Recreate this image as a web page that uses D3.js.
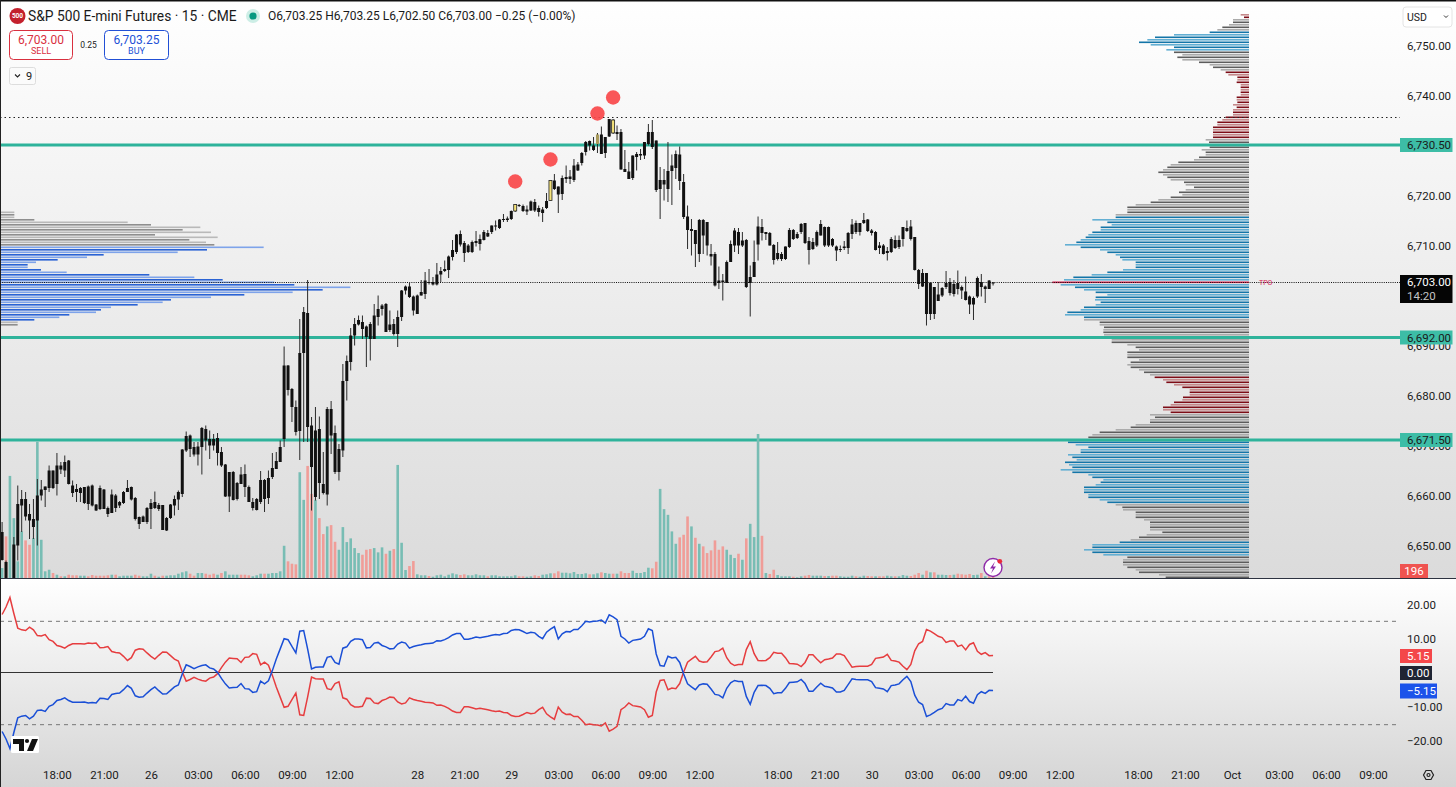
<!DOCTYPE html>
<html>
<head>
<meta charset="utf-8">
<style>
html,body{margin:0;padding:0;background:#fff;overflow:hidden}
text{font-family:Roboto,"Noto Sans",sans-serif;fill:#1a1a1a}
</style>
<script src="https://cdn.jsdelivr.net/npm/d3@7"></script>
</head>
<body>
<script>
// S&P 500 E-mini, 15 min bars
var highs = [6655.1,6647.4,6643.5,6652.1,6662.4,6661.5,6661.1,6658.7,6659.7,6663.7,
6663.5,6662.2,6666.4,6665.4,6668.9,6667.1,6668.4,6667.5,6663.4,6662.7,
6662.1,6662.1,6662.4,6662.6,6658.7,6662.4,6661.7,6658.2,6661.6,6660.7,
6659.3,6661.3,6663.5,6662.2,6660.1,6656.2,6656.4,6658.1,6659.7,6661.2,
6658.9,6658.5,6656.1,6658.7,6660.4,6661.4,6669.7,6673.2,6672.6,6671.1,
6671.1,6674.1,6674.4,6673.4,6672.7,6672.9,6670.1,6666.7,6665.1,6665.3,
6663.1,6666.1,6666.6,6662.4,6659.9,6659.9,6665.3,6663.7,6665.4,6668.9,
6669.1,6671.4,6690.2,6686.5,6681.9,6679.4,6695.7,6698.1,6703.5,6676.1,
6678.1,6676.2,6669.1,6678.1,6679.3,6674.4,6670.7,6686.7,6688.4,6693.9,
6695.9,6696.4,6696.4,6694.4,6695.1,6698.7,6700.4,6698.7,6698.9,6697.4,
6695.7,6697.4,6701.5,6702.4,6702.9,6700.4,6700.6,6703.5,6705.1,6705.7,
6704.1,6706.9,6706.1,6707.4,6708.4,6711.5,6712.7,6713.4,6711.3,6710.7,
6711.4,6713.3,6712.6,6713.5,6713.5,6714.4,6715.4,6715.7,6716.7,6716.2,
6717.4,6718.7,6718.7,6718.6,6718.4,6719.4,6719.7,6718.4,6718.1,6720.9,
6723.4,6724.7,6722.2,6724.4,6726.4,6725.5,6727.7,6727.1,6729.1,6731.3,
6731.4,6732.1,6732.9,6734.2,6732.1,6735.7,6735.7,6734.4,6733.7,6729.5,
6727.1,6728.4,6729.1,6729.7,6731.1,6734.7,6735.5,6731.4,6726.1,6725.7,
6731.1,6728.6,6729.4,6730.2,6724.7,6718.4,6715.7,6713.5,6715.7,6715.7,
6715.1,6710.7,6709.1,6706.2,6704.7,6707.4,6711.4,6713.9,6713.9,6713.1,
6711.7,6706.4,6711.4,6716.2,6715.7,6713.1,6713.1,6710.7,6711.1,6709.1,
6710.2,6713.9,6713.7,6713.1,6714.9,6714.9,6712.1,6711.9,6713.4,6715.5,
6714.2,6714.2,6711.9,6710.4,6710.4,6711.3,6713.1,6715.7,6715.4,6714.9,
6716.9,6715.7,6713.7,6713.3,6711.1,6710.7,6710.1,6712.1,6712.4,6712.4,
6714.1,6715.4,6715.5,6712.1,6705.7,6705.7,6704.9,6703.1,6702.1,6703.1,
6702.1,6705.3,6703.9,6703.5,6705.4,6702.4,6704.2,6700.4,6700.2,6704.2,
6704.7,6702.4,6703.5,6703.1];
var bodyTops = [6653.1,6647.1,6643.0,6650.6,6658.7,6659.7,6659.7,6656.7,6655.7,6660.4,
6661.6,6662.2,6665.4,6665.4,6666.4,6666.4,6667.1,6667.4,6662.4,6661.7,
6661.9,6662.1,6662.2,6662.4,6658.6,6661.9,6661.6,6657.9,6660.6,6660.4,
6659.1,6661.1,6661.9,6662.1,6659.9,6656.1,6656.2,6657.9,6658.9,6659.1,
6658.5,6658.5,6655.9,6658.6,6659.7,6661.1,6669.6,6672.3,6672.4,6670.1,
6670.2,6673.9,6673.7,6671.7,6671.7,6671.9,6669.1,6666.6,6665.1,6665.1,
6662.9,6664.6,6664.7,6662.1,6659.1,6659.7,6663.5,6663.5,6663.9,6665.9,
6667.3,6670.1,6686.4,6686.4,6681.7,6678.1,6688.9,6697.1,6696.9,6674.4,
6673.4,6673.7,6662.7,6677.7,6677.7,6672.9,6669.7,6683.3,6687.3,6692.4,
6694.7,6695.5,6695.1,6694.2,6694.7,6696.4,6697.7,6698.4,6698.7,6694.6,
6694.7,6696.1,6701.4,6702.2,6702.2,6700.2,6700.4,6701.1,6703.4,6703.1,
6703.1,6704.6,6705.3,6705.7,6708.2,6709.5,6712.6,6712.7,6710.9,6710.4,
6711.1,6711.3,6711.7,6713.1,6712.9,6714.4,6714.4,6715.6,6715.7,6715.8,
6717.3,6718.6,6718.5,6718.3,6717.6,6719.2,6719.1,6717.9,6717.6,6719.3,
6723.4,6723.4,6722.2,6723.9,6724.1,6724.2,6726.4,6726.6,6728.9,6731.1,
6731.3,6730.4,6732.6,6732.6,6732.1,6735.7,6735.5,6733.1,6733.1,6725.7,
6725.2,6728.4,6728.7,6728.7,6731.1,6733.1,6733.1,6731.4,6723.5,6723.5,
6725.3,6726.4,6728.7,6728.6,6723.1,6716.2,6713.7,6713.5,6715.5,6715.5,
6715.1,6708.7,6708.7,6703.4,6703.4,6707.1,6710.7,6713.4,6713.1,6711.4,
6711.5,6704.1,6707.1,6714.2,6714.1,6713.1,6712.9,6710.5,6708.9,6708.7,
6710.2,6713.5,6713.5,6712.7,6714.7,6714.9,6711.3,6711.1,6713.1,6714.7,
6714.1,6714.1,6711.7,6710.2,6709.7,6710.2,6712.9,6714.6,6714.9,6714.9,
6715.5,6715.6,6713.4,6713.1,6710.4,6710.4,6709.3,6711.7,6711.5,6711.5,
6714.1,6713.9,6714.2,6712.1,6705.5,6704.9,6704.9,6702.9,6702.1,6700.6,
6701.9,6702.9,6703.1,6702.7,6702.9,6702.1,6701.2,6700.2,6699.9,6703.9,
6703.1,6702.2,6703.4,6703.0];
var bodyBottoms = [6647.5,6643.7,6642.0,6643.7,6650.4,6658.4,6656.2,6655.4,6654.1,6655.4,
6660.4,6661.5,6661.9,6661.9,6662.7,6665.6,6665.4,6662.7,6660.9,6661.1,
6660.9,6658.9,6658.7,6658.4,6657.4,6657.7,6657.7,6656.7,6656.9,6657.9,
6658.4,6658.9,6661.1,6659.6,6655.7,6654.7,6655.1,6655.1,6657.7,6657.9,
6657.7,6653.5,6653.4,6655.9,6658.4,6659.6,6660.7,6669.4,6669.7,6668.6,
6668.6,6670.1,6671.4,6670.4,6670.4,6668.9,6666.4,6660.2,6660.2,6659.5,
6659.7,6662.7,6662.1,6659.1,6657.9,6657.5,6659.1,6659.7,6659.9,6664.1,
6665.7,6667.1,6671.7,6681.5,6678.1,6673.1,6673.3,6688.9,6674.1,6666.1,
6660.1,6662.9,6660.9,6660.6,6672.4,6665.1,6665.1,6669.4,6683.3,6687.1,
6692.4,6694.6,6693.7,6692.1,6691.7,6691.7,6696.1,6697.7,6693.1,6693.5,
6692.7,6692.7,6696.1,6701.4,6700.1,6697.4,6696.7,6700.4,6700.7,6702.9,
6702.6,6702.6,6704.6,6705.3,6705.5,6708.1,6709.1,6710.6,6708.9,6709.1,
6709.1,6710.9,6710.7,6711.5,6712.2,6713.1,6714.2,6713.9,6715.5,6715.5,
6715.7,6717.3,6718.3,6717.3,6717.2,6717.4,6717.4,6717.1,6716.9,6717.9,
6719.4,6721.7,6720.6,6720.7,6723.7,6723.7,6723.5,6725.4,6726.9,6729.1,
6730.4,6729.5,6730.7,6728.7,6728.9,6732.2,6732.9,6732.7,6725.6,6725.1,
6723.7,6723.9,6728.1,6728.4,6728.4,6730.7,6730.1,6721.5,6721.7,6722.6,
6721.7,6725.3,6725.9,6723.3,6716.1,6713.5,6713.3,6710.7,6708.7,6712.4,
6710.4,6708.2,6702.4,6702.9,6703.1,6702.9,6707.1,6710.4,6710.4,6710.4,
6702.1,6702.9,6704.1,6710.6,6712.9,6712.7,6710.4,6707.5,6707.7,6707.7,
6707.7,6710.1,6711.7,6711.9,6713.1,6710.9,6709.5,6709.7,6710.4,6712.4,
6710.4,6710.4,6710.4,6709.4,6709.5,6709.9,6709.9,6712.7,6713.1,6713.1,
6714.9,6713.3,6712.9,6709.5,6709.9,6708.7,6708.9,6709.1,6709.9,6710.1,
6711.7,6713.3,6711.7,6705.5,6702.7,6702.2,6696.7,6696.7,6696.7,6699.3,
6700.4,6702.1,6700.9,6700.7,6701.7,6701.4,6699.5,6698.6,6698.6,6700.2,
6702.1,6701.7,6701.7,6702.8];
var lows = [6647.4,6643.7,6641.0,6643.7,6647.4,6653.1,6655.4,6651.7,6651.7,6650.4,
6659.4,6658.1,6661.1,6661.7,6660.4,6664.7,6664.1,6662.6,6660.1,6659.1,
6659.1,6658.7,6657.5,6658.2,6657.3,6657.5,6657.7,6656.1,6656.9,6657.1,
6657.9,6658.7,6661.1,6659.4,6655.4,6653.7,6655.1,6654.7,6653.7,6657.7,
6657.3,6653.5,6653.3,6655.7,6656.4,6657.5,6660.1,6669.1,6668.1,6668.2,
6666.4,6664.6,6669.4,6667.7,6669.4,6666.4,6666.1,6660.1,6657.1,6659.4,
6659.4,6662.7,6660.1,6659.1,6657.4,6657.4,6658.7,6657.1,6658.7,6663.7,
6665.7,6667.1,6670.1,6680.4,6675.1,6672.4,6667.5,6671.1,6671.1,6657.4,
6659.4,6659.7,6660.6,6658.4,6668.7,6664.7,6663.4,6668.1,6679.4,6685.4,
6690.4,6694.4,6691.7,6686.1,6687.4,6691.7,6694.4,6696.4,6693.1,6693.1,
6692.4,6690.1,6695.3,6700.6,6699.9,6696.4,6696.7,6700.4,6699.7,6702.6,
6702.4,6702.4,6703.1,6705.1,6703.9,6707.4,6708.7,6710.2,6707.1,6708.9,
6708.9,6710.2,6709.4,6711.4,6712.1,6712.7,6713.4,6713.7,6715.1,6715.1,
6715.5,6717.1,6718.1,6717.1,6716.5,6717.3,6717.1,6716.2,6715.1,6717.7,
6719.4,6721.5,6716.9,6719.5,6722.9,6722.7,6723.1,6725.3,6726.4,6728.4,
6729.4,6729.3,6728.9,6728.7,6727.9,6732.1,6732.7,6731.5,6725.6,6725.1,
6723.7,6723.5,6725.4,6727.5,6727.7,6730.4,6729.7,6721.1,6715.7,6719.4,
6719.1,6718.5,6723.7,6721.5,6715.7,6709.7,6708.4,6706.1,6707.1,6708.7,
6708.4,6706.4,6702.2,6701.7,6699.4,6702.9,6707.1,6709.1,6708.7,6710.1,
6701.9,6696.2,6704.1,6707.4,6711.4,6711.5,6710.4,6706.6,6707.4,6707.3,
6707.5,6709.9,6711.5,6711.7,6712.7,6710.7,6706.6,6709.5,6710.1,6712.4,
6710.1,6710.1,6710.1,6707.3,6709.1,6709.5,6708.7,6711.7,6712.7,6712.4,
6714.7,6713.1,6712.4,6709.4,6708.7,6708.6,6707.4,6708.9,6709.7,6709.7,
6710.2,6713.1,6711.4,6705.4,6701.7,6702.1,6694.4,6695.5,6695.7,6699.3,
6700.1,6701.7,6700.4,6700.2,6700.6,6699.7,6699.4,6696.7,6695.5,6699.9,
6700.2,6698.9,6701.7,6702.4];
var volumes = [1000,4170,10230,6000,1670,4670,3770,3330,4000,13670,
3830,670,830,500,330,170,170,330,270,270,
230,230,170,300,230,230,230,270,330,330,
170,230,230,230,330,230,170,170,430,230,
130,230,230,270,270,430,570,670,430,230,
500,500,430,330,430,330,500,670,330,330,
330,330,330,270,170,270,430,430,430,500,
500,670,3230,1670,1430,1370,10600,7830,11230,8430,
7830,6000,4400,5170,5300,3630,2830,5100,3600,3970,
3000,2500,2330,2830,2900,3000,2570,3070,2430,2730,
2900,11330,3530,800,1200,1700,370,270,270,200,
130,270,330,170,330,470,370,300,370,270,
270,370,270,270,170,270,270,170,170,170,
170,270,170,170,130,170,270,200,330,370,
470,470,670,530,530,470,600,400,400,470,
370,370,470,570,500,430,430,430,670,500,
500,730,500,500,600,1030,970,1630,8930,6900,
6330,4670,3430,4070,4330,6170,5170,4030,3430,3170,
2500,2770,3770,2830,3170,2830,2330,2000,2430,1830,
3970,5430,4100,14430,4230,500,400,830,300,170,
170,170,130,70,170,230,300,230,230,230,
200,200,230,230,170,130,130,230,170,130,
230,200,170,170,170,170,230,170,170,170,
300,230,200,330,500,330,730,570,570,330,
330,300,300,330,430,370,330,400,300,330,
500,170,170,196];
var volumeSides = ("grggggrrgg"+"gggrgrgrrr"+"ggrrrrrrgr"+"ggggrrgggr"+"grggggggrr"+
"ggrrrgrggg"+"grrrgggrgg"+"gggrrrggrr"+"grrgrrgggg"+"ggrrrgggrg"+
"rgggrrgggr"+"gggggggrrg"+"ggggrggggg"+"ggrrggrrgg"+"grrggggggg"+
"rggrggrgrr"+"rgggggrrgg"+"gggrrrgrgr"+"rrrrrgggrg"+"rgggrgrrgg"+
"ggrggrrggg"+"rgrrggggrg"+"grrgrrggrg"+"ggrrrgrgrg"+"ggrgrrrrgg"+"rgrr").split("");

var redLine = [17.2,19.4,22.2,17.5,13.2,12.7,12.5,13.5,12.7,11,
10.9,11.3,9.8,9.3,8.1,7.8,7.3,8.1,8.6,8.6,
8.6,8.5,8.8,8.7,8.8,7.4,7.5,7.8,6.3,6,
5.9,4.9,3.7,4.5,6.7,7.1,7,5.9,4.9,4.1,
5.2,6.2,6.1,5.1,4.1,3.5,0.3,-2.4,-1.9,-1.3,
-1.8,-2.2,-2.4,-1.5,-1.2,-0.2,1.6,3.2,4.4,4.3,
4.2,3.1,4.6,4.7,5.7,5.5,2.4,3.2,2.3,-0.7,
-4.1,-7.1,-10.1,-9.8,-7.8,-5.9,-12.3,-12.5,-7.1,-1.2,
-1.7,-1.8,-1.8,-4.6,-4.9,-3.1,-2.6,-7.3,-7.7,-9.3,
-10,-10,-9.8,-7.4,-7.5,-8.8,-9,-8.1,-7.7,-7.1,
-7.2,-8.5,-9.1,-8.8,-7.3,-7.8,-8.1,-8.3,-8.6,-8.7,
-8.8,-9.5,-9.4,-9.8,-10.4,-11.2,-11.6,-11.6,-9.9,-9.9,
-10.2,-10.6,-10.4,-10.6,-10.8,-11.1,-11.3,-11.2,-11.6,-11.7,
-12.5,-12.8,-12.7,-12.2,-11.6,-12,-11.8,-10.8,-10.1,-12,
-12.9,-13.6,-10,-11.5,-12.2,-12.1,-12.8,-12.8,-13.9,-15.2,
-15,-15.2,-15.3,-15.6,-14.7,-17.1,-16.5,-15.7,-10.8,-10,
-8.8,-9.6,-9.8,-10,-10.8,-13,-12.5,-5.6,-2.2,-2,
-4.9,-4.4,-4.6,-3.1,0.3,3.2,4.1,4.9,3.5,3.2,
3.3,4.7,6.3,6.5,7.3,4.5,2.9,2.2,2.5,2.5,
6.9,9.2,5.7,3.7,3.6,3.7,4.5,6.1,5.8,5.8,
4.5,2.8,2.7,2.6,1.9,3.1,5.4,5.4,4.1,3,
3.9,4.1,4.4,5.6,5.6,5.1,3.4,1.7,1.9,2,
2,2,2.5,4.3,4.5,4.7,5.5,3.7,3.5,3.2,
2,1,2.5,6.5,8.6,9.3,12.8,12.3,11.6,10.8,
10.4,9,9.4,9.4,7.8,8.2,6.8,8.4,8.9,6.4,
5.5,6,5.1,5.15];
var blueLine = [-17.2,-19.4,-22.2,-17.5,-13.2,-12.7,-12.5,-13.5,-12.7,-11,
-10.9,-11.3,-9.8,-9.3,-8.1,-7.8,-7.3,-8.1,-8.6,-8.6,
-8.6,-8.5,-8.8,-8.7,-8.8,-7.4,-7.5,-7.8,-6.3,-6,
-5.9,-4.9,-3.7,-4.5,-6.7,-7.1,-7,-5.9,-4.9,-4.1,
-5.2,-6.2,-6.1,-5.1,-4.1,-3.5,-0.3,2.4,1.9,1.3,
1.8,2.2,2.4,1.5,1.2,0.2,-1.6,-3.2,-4.4,-4.3,
-4.2,-3.1,-4.6,-4.7,-5.7,-5.5,-2.4,-3.2,-2.3,0.7,
4.1,7.1,10.1,9.8,7.8,5.9,12.3,12.5,7.1,1.2,
1.7,1.8,1.8,4.6,4.9,3.1,2.6,7.3,7.7,9.3,
10,10,9.8,7.4,7.5,8.8,9,8.1,7.7,7.1,
7.2,8.5,9.1,8.8,7.3,7.8,8.1,8.3,8.6,8.7,
8.8,9.5,9.4,9.8,10.4,11.2,11.6,11.6,9.9,9.9,
10.2,10.6,10.4,10.6,10.8,11.1,11.3,11.2,11.6,11.7,
12.5,12.8,12.7,12.2,11.6,12,11.8,10.8,10.1,12,
12.9,13.6,10,11.5,12.2,12.1,12.8,12.8,13.9,15.2,
15,15.2,15.3,15.6,14.7,17.1,16.5,15.7,10.8,10,
8.8,9.6,9.8,10,10.8,13,12.5,5.6,2.2,2,
4.9,4.4,4.6,3.1,-0.3,-3.2,-4.1,-4.9,-3.5,-3.2,
-3.3,-4.7,-6.3,-6.5,-7.3,-4.5,-2.9,-2.2,-2.5,-2.5,
-6.9,-9.2,-5.7,-3.7,-3.6,-3.7,-4.5,-6.1,-5.8,-5.8,
-4.5,-2.8,-2.7,-2.6,-1.9,-3.1,-5.4,-5.4,-4.1,-3,
-3.9,-4.1,-4.4,-5.6,-5.6,-5.1,-3.4,-1.7,-1.9,-2,
-2,-2,-2.5,-4.3,-4.5,-4.7,-5.5,-3.7,-3.5,-3.2,
-2,-1,-2.5,-6.5,-8.6,-9.3,-12.8,-12.3,-11.6,-10.8,
-10.4,-9,-9.4,-9.4,-7.8,-8.2,-6.8,-8.4,-8.9,-6.4,
-5.5,-6,-5.1,-5.15];

// volume profile rows, one per half point going down from the top price
var rightProfileTop = 6756.5;
var rightProfile = [25,15,48,48,60,80,95,118,225,282,
305,330,295,225,248,225,200,215,200,150,
118,108,85,70,62,35,35,37,25,25,
25,25,25,37,37,35,48,37,48,48,
48,70,80,95,95,108,108,108,108,108,
130,120,130,118,142,130,130,150,165,212,
235,245,258,272,258,245,235,195,190,165,
190,210,200,235,272,295,340,365,365,365,
400,400,470,425,412,445,445,470,482,490,
505,518,552,505,447,425,400,387,380,340,
340,340,378,425,472,527,555,590,565,522,
495,460,425,460,462,445,460,495,505,545,
552,495,495,448,448,435,437,437,435,412,
412,412,365,340,330,365,365,365,330,355,
365,355,330,315,297,283,258,248,225,200,
178,178,178,198,200,225,235,258,258,235,
297,282,297,297,340,355,400,448,470,482,
480,543,520,482,505,505,543,530,517,552,
540,530,565,530,482,470,437,445,460,495,
495,495,482,482,448,425,400,380,378,340,
340,340,315,297,297,297,297,260,307,330,
355,388,470,470,495,470,437,365,378,378,
378,365,340,330,270,250];
var blueZones = [[6753,6749.5],[6716,6696],[6671,6659],[6651,6648.5]];
var redZones = [[6756.5,6756],[6745,6732],[6684,6677]];
var pocPrice = 6703;

var leftProfileTop = 6717;
var leftProfile = [40,40,40,100,380,450,598,545,630,462,
650,565,615,640,788,618,530,308,258,170,
105,80,80,120,197,445,580,665,820,880,
1048,965,875,730,630,510,485,410,330,300,
285,205,175,100,50,50];
var leftBlueZone = [6710,6695.5];

var levelPrices = [6730.5,6692,6671.5];
var dottedPrices = [6736,6703];
var signalBars = [131,140,152,156];
var signalPrices = [6723.2,6727.6,6736.8,6740];
var markedBars = [131,140,156];
var khakiBars = [152];

var priceTicks = [6750,6740,6730,6720,6710,6700,6690,6680,6670,6660,6650];
var indicatorTicks = [20,10,0,-10,-20];
var indicatorGuides = [15.2,-15.2];
var timeTickBars = [14,26,38,50,62,74,86,106,118,130,142,154,166,178,198,210,222,234,246,258,270,290,302,314,326,338,350];
var timeTickLabels = ["18:00","21:00","26","03:00","06:00","09:00","12:00","28","21:00","29","03:00","06:00","09:00","12:00","18:00","21:00","30","03:00","06:00","09:00","12:00","18:00","21:00","Oct","03:00","06:00","09:00"];

var w = 1456, h = 787;
var x = d3.scaleLinear().domain([0,350]).range([2.1,1373]);
var y = d3.scaleLinear().domain([6750,6650]).range([47.5,547.5]);
var yVol = d3.scaleLinear().domain([0,14430]).range([578,434]);
var yInd = d3.scaleLinear().domain([20,-20]).range([605,741]);
var profW = d3.scaleLinear().domain([0,3]).range([0,1]);
var fmt = d3.format(",.2f");

var svg = d3.select("body").append("svg").attr("width",w).attr("height",h).style("display","block");
var defs = svg.append("defs");
function grad(id, c1, c2) {
	var g = defs.append("linearGradient").attr("id",id).attr("x1",0).attr("y1",0).attr("x2",0).attr("y2",1);
	g.append("stop").attr("offset","0%").attr("stop-color",c1);
	g.append("stop").attr("offset","100%").attr("stop-color",c2);
}
grad("bgMain","#ffffff","#dbdbdb");
grad("bgInd","#ffffff","#d5d5d5");
defs.append("clipPath").attr("id","mainClip").append("rect").attr("x",0).attr("y",0).attr("width",1400).attr("height",578);

svg.append("rect").attr("width",w).attr("height",578).attr("fill","url(#bgMain)");
svg.append("rect").attr("y",579).attr("width",w).attr("height",208).attr("fill","url(#bgInd)");

function inZones(p, zones) {
	return zones.some(function(z) { return p <= z[0] && p >= z[1]; });
}
var main = svg.append("g").attr("clip-path","url(#mainClip)");

// left profile
main.append("g").selectAll("rect").data(leftProfile).join("rect")
	.attr("x",1)
	.attr("y",function(d,i) { return y(leftProfileTop-i*0.5)-1; })
	.attr("width",function(d) { return profW(d); })
	.attr("height",1.6)
	.attr("fill",function(d,i) {
		var p = leftProfileTop-i*0.5;
		if (p <= leftBlueZone[0] && p >= leftBlueZone[1]) return i%2 ? "#2a63d4" : "#7ea3ea";
		return i%2 ? "#8e8e8e" : "#b9b9b9";
	});

// right profile
main.append("g").selectAll("rect").data(rightProfile).join("rect")
	.attr("x",function(d) { return 1249-profW(d); })
	.attr("y",function(d,i) { return y(rightProfileTop-i*0.5)-1; })
	.attr("width",function(d) { return profW(d); })
	.attr("height",1.6)
	.attr("fill",function(d,i) {
		var p = rightProfileTop-i*0.5;
		if (p == pocPrice) return "#d3204e";
		if (inZones(p,blueZones)) return i%2 ? "#1375a8" : "#63afd3";
		if (inZones(p,redZones)) return i%2 ? "#7d0c16" : "#c58a8c";
		return i%2 ? "#5c5c5c" : "#ababab";
	});

// dotted lines
main.append("line").attr("x1",0).attr("x2",1400).attr("y1",y(dottedPrices[0])).attr("y2",y(dottedPrices[0]))
	.attr("stroke","#222").attr("stroke-width",1.1).attr("stroke-dasharray","1.5,3");
main.append("line").attr("x1",0).attr("x2",1400).attr("y1",y(dottedPrices[1])).attr("y2",y(dottedPrices[1]))
	.attr("stroke","#111").attr("stroke-width",1).attr("stroke-dasharray","1,1.2");

// teal levels
main.append("g").selectAll("line").data(levelPrices).join("line")
	.attr("x1",0).attr("x2",1400)
	.attr("y1",function(d) { return y(d); }).attr("y2",function(d) { return y(d); })
	.attr("stroke","#2fb39b").attr("stroke-width",3.2);

// volume
main.append("g").selectAll("rect").data(volumes).join("rect")
	.attr("x",function(d,i) { return x(i)-1.3; })
	.attr("y",function(d) { return yVol(d); })
	.attr("width",2.6)
	.attr("height",function(d) { return 578-yVol(d); })
	.attr("fill",function(d,i) { return volumeSides[i]=="g" ? "#78bdb4" : "#f09d98"; });

// candles
var candles = main.append("g");
candles.selectAll("line").data(highs).join("line")
	.attr("x1",function(d,i) { return x(i); }).attr("x2",function(d,i) { return x(i); })
	.attr("y1",function(d) { return y(d); })
	.attr("y2",function(d,i) { return y(lows[i]); })
	.attr("stroke","#2a2a2a").attr("stroke-width",1);
candles.selectAll("rect").data(bodyTops).join("rect")
	.attr("x",function(d,i) { return x(i)-1.5; })
	.attr("width",3)
	.attr("y",function(d) { return y(d); })
	.attr("height",function(d,i) { return Math.max(1,y(bodyBottoms[i])-y(d)); })
	.attr("fill",function(d,i) {
		if (markedBars.indexOf(i) >= 0) return "#f4e27a";
		if (khakiBars.indexOf(i) >= 0) return "#a89a5a";
		return "#111";
	})
	.attr("stroke",function(d,i) { return markedBars.indexOf(i) >= 0 ? "#222" : "none"; })
	.attr("stroke-width",0.8);

// signal dots
main.append("g").selectAll("circle").data(signalBars).join("circle")
	.attr("cx",function(d) { return x(d); })
	.attr("cy",function(d,i) { return y(signalPrices[i]); })
	.attr("r",7.2)
	.attr("fill","#f8484a").attr("fill-opacity",0.92);

// TPO tag
svg.append("text").attr("x",1259).attr("y",y(pocPrice)).attr("dy","0.35em")
	.attr("font-size",7).style("fill","#d3204e").text("TPO");
// pane divider
svg.append("line").attr("x1",0).attr("x2",w).attr("y1",578.5).attr("y2",578.5).attr("stroke","#2c3240").attr("stroke-width",1);

// price axis
var priceAxis = d3.axisRight(y).tickValues(priceTicks).tickSize(0).tickPadding(0).tickFormat(fmt);
var gPrice = svg.append("g").attr("transform","translate(1407,-1.5)").call(priceAxis);
gPrice.select(".domain").remove();
gPrice.selectAll("text").attr("font-size",11.5).attr("text-anchor","start");

// level tags
function tag(yc, hgt, x0, wdt, col) {
	svg.append("rect").attr("x",x0).attr("y",yc-hgt/2).attr("width",wdt).attr("height",hgt).attr("fill",col);
}
levelPrices.forEach(function(p) {
	tag(y(p),14,1400,52.5,"#3dbda6");
	svg.append("text").attr("x",1407).attr("y",y(p)).attr("dy","0.35em").attr("font-size",11.5).text(fmt(p));
});
svg.append("rect").attr("x",1400).attr("y",275).attr("width",52.5).attr("height",28).attr("fill","#050505");
svg.append("text").attr("x",1407).attr("y",y(pocPrice)-0.5).attr("dy","0.35em").attr("font-size",11.5).style("fill","#fff").text(fmt(pocPrice));
svg.append("text").attr("x",1407).attr("y",296).attr("dy","0.35em").attr("font-size",11.5).style("fill","#c4c4c4").text("14:20");
svg.append("rect").attr("x",1400).attr("y",564).attr("width",28).attr("height",14).attr("fill","#ef5350");
svg.append("text").attr("x",1414).attr("y",571).attr("dy","0.35em").attr("text-anchor","middle").attr("font-size",11.5).style("fill","#fff").text(volumes[volumes.length-1]);

// currency box
svg.append("rect").attr("x",1403).attr("y",7).attr("width",49).attr("height",20).attr("rx",3).attr("fill","#fff").attr("stroke","#e4e4e4");
svg.append("text").attr("x",1407).attr("y",17).attr("dy","0.35em").attr("font-size",10.5).text("USD");
svg.append("path").attr("d","M1444 15.5l2 2 2-2").attr("fill","none").attr("stroke","#333");

// indicator pane
var gGuides = svg.append("g");
gGuides.selectAll("line").data(indicatorGuides).join("line")
	.attr("x1",0).attr("x2",1400)
	.attr("y1",function(d) { return yInd(d); }).attr("y2",function(d) { return yInd(d); })
	.attr("stroke","#777").attr("stroke-dasharray","4,4");
svg.append("line").attr("x1",0).attr("x2",993).attr("y1",yInd(0)-0.5).attr("y2",yInd(0)-0.5).attr("stroke","#333").attr("stroke-width",1);
var lineGen = d3.line().x(function(d,i) { return x(i); }).y(function(d) { return yInd(d); });
svg.append("path").datum(redLine).attr("d",lineGen).attr("fill","none").attr("stroke","#e63d3f").attr("stroke-width",1.5);
svg.append("path").datum(blueLine).attr("d",lineGen).attr("fill","none").attr("stroke","#1a4fd6").attr("stroke-width",1.5);

var indAxis = d3.axisRight(yInd).tickValues(indicatorTicks.filter(function(d) { return d != 0; })).tickSize(0).tickPadding(0)
	.tickFormat(function(d) { return (d < 0 ? "\u2212" : "")+Math.abs(d).toFixed(2); });
var gInd = svg.append("g").attr("transform","translate(1407,0)").call(indAxis);
gInd.select(".domain").remove();
gInd.selectAll("text").attr("font-size",11.5).attr("text-anchor","start");

tag(656,14,1400,32,"#f4474a");
svg.append("text").attr("x",1407).attr("y",656).attr("dy","0.35em").attr("font-size",11.5).style("fill","#fff").text(redLine[redLine.length-1].toFixed(2));
tag(673,14,1400,32,"#1f2433");
svg.append("text").attr("x",1407).attr("y",673).attr("dy","0.35em").attr("font-size",11.5).style("fill","#fff").text("0.00");
tag(691,15,1400,37,"#1b53ea");
svg.append("text").attr("x",1407).attr("y",691).attr("dy","0.35em").attr("font-size",11.5).style("fill","#fff").text("\u2212"+Math.abs(blueLine[blueLine.length-1]).toFixed(2));

// time axis
var timeAxis = d3.axisBottom(x).tickValues(timeTickBars).tickSize(0).tickPadding(0)
	.tickFormat(function(d) { return timeTickLabels[timeTickBars.indexOf(d)]; });
var gTime = svg.append("g").attr("transform","translate(0,771)").call(timeAxis);
gTime.select(".domain").remove();
gTime.selectAll("text").attr("font-size",11.5).attr("dy","0.7em");

// gear
svg.append("path").attr("d","M1423.5 775l2.5-4.5h5l2.5 4.5-2.5 4.5h-5z").attr("fill","none").attr("stroke","#222").attr("stroke-width",1.2);
svg.append("circle").attr("cx",1428.5).attr("cy",775).attr("r",1.5).attr("fill","none").attr("stroke","#222").attr("stroke-width",1.2);

// frame
svg.append("rect").attr("width",w).attr("height",1.5).attr("fill","#111");
svg.append("rect").attr("width",1).attr("height",h).attr("fill","#222");

// header
svg.append("circle").attr("cx",17.5).attr("cy",16).attr("r",8).attr("fill","#c3202c");
svg.append("text").attr("x",17.5).attr("y",16).attr("dy","0.35em").attr("text-anchor","middle").attr("font-size",6.5).attr("font-weight",700).style("fill","#fff").text("500");
svg.append("text").attr("x",28).attr("y",16).attr("dy","0.36em").attr("font-size",13.8).text("S&P 500 E-mini Futures \u00b7 15 \u00b7 CME");
svg.append("circle").attr("cx",253).attr("cy",16).attr("r",7).attr("fill","#cdeee6");
svg.append("circle").attr("cx",253).attr("cy",16).attr("r",3.6).attr("fill","#089981");
svg.append("text").attr("x",268).attr("y",16).attr("dy","0.36em").attr("font-size",12).text("O6,703.25 H6,703.25 L6,702.50 C6,703.00 \u22120.25 (\u22120.00%)");

function tradeBox(x0, wdt, col, price, side) {
	svg.append("rect").attr("x",x0).attr("y",30.5).attr("width",wdt).attr("height",29).attr("rx",4).attr("fill","#fff").attr("stroke",col);
	svg.append("text").attr("x",x0+wdt/2).attr("y",39.5).attr("dy","0.35em").attr("text-anchor","middle").attr("font-size",12).style("fill",col).text(price);
	svg.append("text").attr("x",x0+wdt/2).attr("y",51).attr("dy","0.35em").attr("text-anchor","middle").attr("font-size",9).style("fill",col).text(side);
}
tradeBox(9.5,63,"#d9303f","6,703.00","SELL");
tradeBox(104.5,64,"#2250d6","6,703.25","BUY");
svg.append("text").attr("x",88.5).attr("y",45).attr("dy","0.35em").attr("text-anchor","middle").attr("font-size",8.5).text("0.25");
svg.append("rect").attr("x",9.5).attr("y",67.5).attr("width",26).attr("height",17).attr("rx",2).attr("fill","#fbfbfb").attr("stroke","#ddd");
svg.append("path").attr("d","M15 74.5l2.5 2.5 2.5-2.5").attr("fill","none").attr("stroke","#222").attr("stroke-width",1.1);
svg.append("text").attr("x",26).attr("y",76).attr("dy","0.35em").attr("font-size",11).text("9");

// TradingView mark
svg.append("rect").attr("x",11).attr("y",736).attr("width",28).attr("height",17).attr("rx",1.5).attr("fill","#fff");
svg.append("path").attr("d","M13 739h11v12h-5v-7h-6z").attr("fill","#111");
svg.append("circle").attr("cx",27).attr("cy",741).attr("r",2.1).attr("fill","#111");
svg.append("path").attr("d","M32 739h6l-5 12h-6z").attr("fill","#111");

// lightning badge
svg.append("circle").attr("cx",993).attr("cy",567.5).attr("r",9).attr("fill","#fff").attr("stroke","#8e2aa8").attr("stroke-width",1.4);
svg.append("path").attr("d","M995 561.5l-5 7h3l-2 5 5-7h-3z").attr("fill","#8e2aa8");
svg.append("circle").attr("cx",999.8).attr("cy",561.3).attr("r",2.4).attr("fill","#ea2a3a");
</script>
</body>
</html>
